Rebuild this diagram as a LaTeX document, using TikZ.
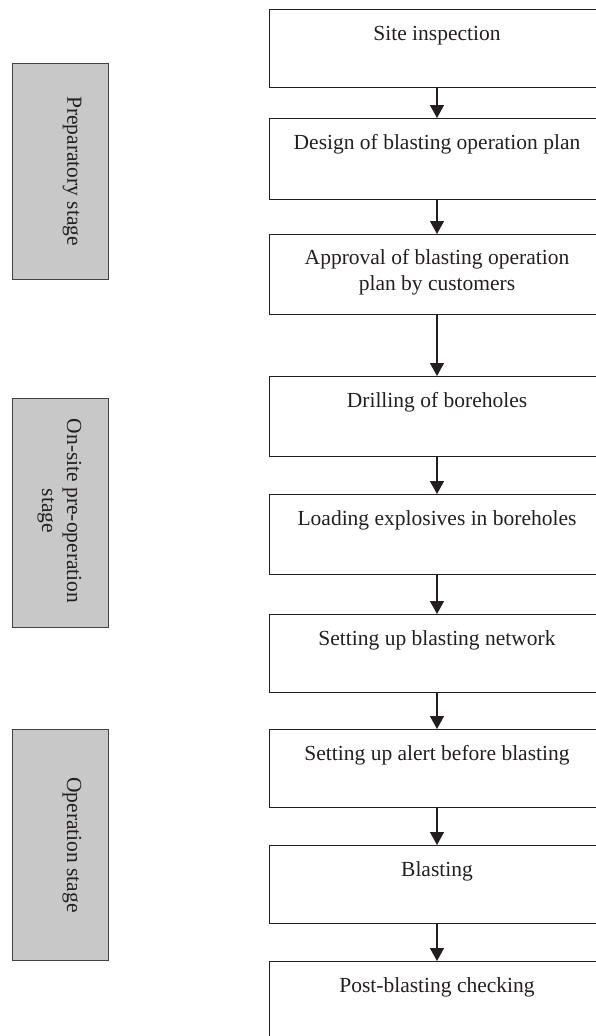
\documentclass[tikz,border=0pt]{standalone}
\usepackage{fontspec}
\setmainfont{Liberation Serif}
\usetikzlibrary{arrows.meta}
\definecolor{inkc}{HTML}{231F20}
\definecolor{stagegray}{HTML}{C8C8C9}
\tikzset{
  stepbox/.style={draw=inkc, line width=1pt, minimum width=336pt, inner sep=0pt, anchor=north},
  boxtxt/.style={anchor=base, align=center, inner sep=0pt, text=inkc, font=\fontsize{21.5}{26}\selectfont},
  stagebox/.style={draw=inkc!85, fill=stagegray, line width=1pt, minimum width=96pt, inner sep=0pt, anchor=north west},
  stagetxt/.style={rotate=-90, align=center, inner sep=0pt, text=inkc, font=\fontsize{21.5}{25}\selectfont},
  flow/.style={draw=inkc, line width=1.3pt, -{Triangle[width=14pt,length=13pt]}}
}
\begin{document}
\begin{tikzpicture}[x=1pt,y=-1pt]
\useasboundingbox (0,0) rectangle (596,1036);
\clip (0,0) rectangle (596,1036);
% flow boxes
\node[stepbox, minimum height=78pt] (b1) at (437,9) {};
\node[stepbox, minimum height=81pt] (b2) at (437,118) {};
\node[stepbox, minimum height=80pt] (b3) at (437,234) {};
\node[stepbox, minimum height=80pt] (b4) at (437,376) {};
\node[stepbox, minimum height=80pt] (b5) at (437,494) {};
\node[stepbox, minimum height=78pt] (b6) at (437,614) {};
\node[stepbox, minimum height=78pt] (b7) at (437,729) {};
\node[stepbox, minimum height=78pt] (b8) at (437,845) {};
\node[stepbox, minimum height=80pt] (b9) at (437,961) {};
% texts
\node[boxtxt] (t1) at ([yshift=-31pt]b1.north) {Site inspection};
\node[boxtxt] (t2) at ([yshift=-31pt]b2.north) {Design of blasting operation plan};
\node[boxtxt] (t3) at ([yshift=-56pt]b3.north) {Approval of blasting operation\\plan by customers};
\node[boxtxt] (t4) at ([yshift=-31pt]b4.north) {Drilling of boreholes};
\node[boxtxt] (t5) at ([yshift=-31pt]b5.north) {Loading explosives in boreholes};
\node[boxtxt] (t6) at ([yshift=-31pt]b6.north) {Setting up blasting network};
\node[boxtxt] (t7) at ([yshift=-31pt]b7.north) {Setting up alert before blasting};
\node[boxtxt] (t8) at ([yshift=-31pt]b8.north) {Blasting};
\node[boxtxt] (t9) at ([yshift=-31pt]b9.north) {Post-blasting checking};
% arrows
\draw[flow] (b1.south) -- (b2.north);
\draw[flow] (b2.south) -- (b3.north);
\draw[flow] (b3.south) -- (b4.north);
\draw[flow] (b4.south) -- (b5.north);
\draw[flow] (b5.south) -- (b6.north);
\draw[flow] (b6.south) -- (b7.north);
\draw[flow] (b7.south) -- (b8.north);
\draw[flow] (b8.south) -- (b9.north);
% stage boxes
\node[stagebox, minimum height=216pt] (s1) at (12,63) {};
\node[stagebox, minimum height=229pt] (s2) at (12,398) {};
\node[stagebox, minimum height=231pt] (s3) at (12,729) {};
\node[stagetxt] (l1) at (72,171) {Preparatory stage};
\node[stagetxt] (l2) at (59.5,511) {On-site pre-operation\\stage};
\node[stagetxt] (l3) at (72,845) {Operation stage};
\end{tikzpicture}
\end{document}
